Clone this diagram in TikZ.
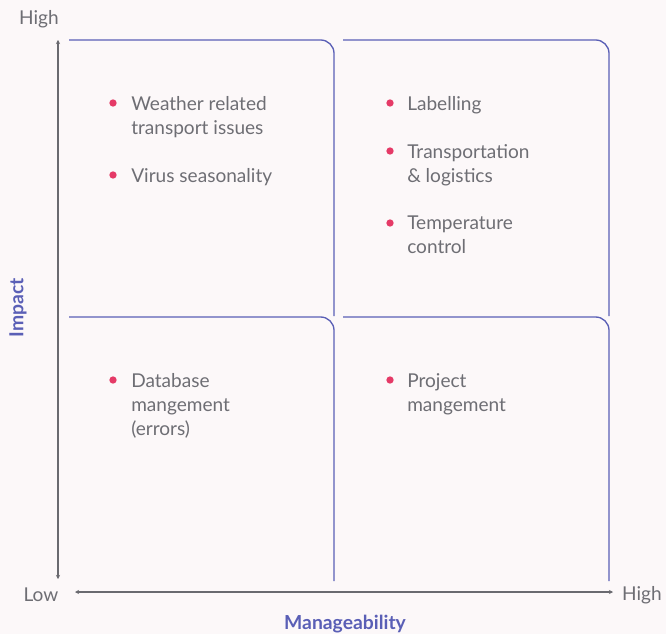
\documentclass[tikz,border=0pt]{standalone}
\usepackage{fontspec}
\setmainfont{Lato}
\usetikzlibrary{arrows.meta}
\definecolor{bgpink}{HTML}{FCF8F9}
\definecolor{quadblue}{HTML}{5A5FB6}
\definecolor{axisgray}{HTML}{6A6A70}
\definecolor{txtgray}{HTML}{6E6E74}
\definecolor{dotpink}{HTML}{E53A67}
\begin{document}
\begin{tikzpicture}[x=0.75pt,y=-0.75pt,
  quad/.style={draw=quadblue, line width=1pt, rounded corners=10pt},
  axis/.style={draw=axisgray, line width=0.8pt, {Stealth[length=3pt,width=3pt]}-{Stealth[length=3pt,width=3pt]}},
  itemtext/.style={anchor=north west, inner sep=0pt, align=left,
    font=\fontsize{14.3}{18}\selectfont, text=txtgray},
  dot/.style={circle, fill=dotpink, inner sep=0pt, minimum size=5.5pt},
  endlabel/.style={font=\fontsize{14.3}{16}\selectfont, text=txtgray},
  axislabel/.style={font=\fontsize{14.5}{16}\selectfont\bfseries, text=quadblue}]
  \fill[bgpink] (0,0) rectangle (666,634);
  \useasboundingbox (0,0) rectangle (666,634);
  % quadrants
  \draw[quad] (69,40) -- (334,40) -- (334,316);
  \draw[quad] (343,40) -- (609,40) -- (609,316);
  \draw[quad] (69,317) -- (334,317) -- (334,581);
  \draw[quad] (343,317) -- (609,317) -- (609,581);
  % axes
  \coordinate (ytop) at (58,40);
  \coordinate (ybot) at (58,579);
  \coordinate (xleft) at (75,592);
  \coordinate (xright) at (613,592);
  \draw[axis] (ytop) -- (ybot);
  \draw[axis] (xleft) -- (xright);
  \node[endlabel] (yhigh) at (39,19) {High};
  \node[endlabel] (ylow) at (41,595) {Low};
  \node[endlabel] (xhigh) at (642,595) {High};
  \node[axislabel, rotate=90] (impact) at (18,308) {Impact};
  \node[axislabel] (manage) at (345,624) {Manageability};
  % top left
  \node[dot] (b1) at (113,103) {};
  \node[itemtext] (t1) at (131,96) {Weather related\\transport issues};
  \node[dot] (b2) at (113,175) {};
  \node[itemtext] (t2) at (131,168) {Virus seasonality};
  % top right
  \node[dot] (b3) at (390,103) {};
  \node[itemtext] (t3) at (407,96) {Labelling};
  \node[dot] (b4) at (390,151) {};
  \node[itemtext] (t4) at (407,144) {Transportation\\\& logistics};
  \node[dot] (b5) at (390,223) {};
  \node[itemtext] (t5) at (407,216) {Temperature\\control};
  % bottom left
  \node[dot] (b6) at (113,380) {};
  \node[itemtext] (t6) at (131,373) {Database\\mangement\\(errors)};
  % bottom right
  \node[dot] (b7) at (390,380) {};
  \node[itemtext] (t7) at (407,373) {Project\\mangement};
\end{tikzpicture}
\end{document}
